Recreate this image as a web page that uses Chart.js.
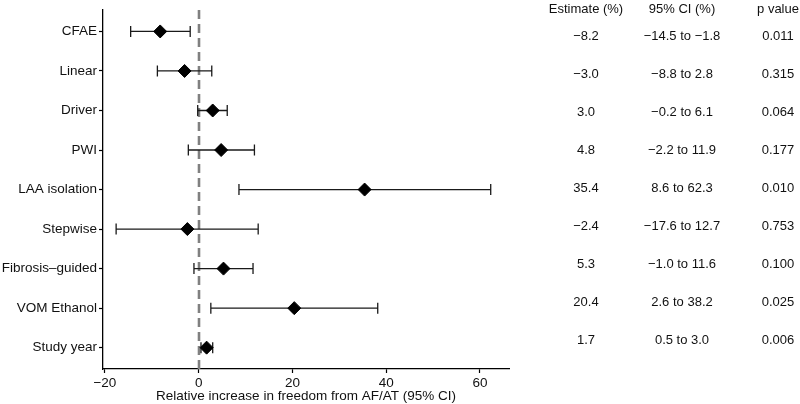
<!DOCTYPE html>
<html>
<head>
<meta charset="utf-8">
<script src="https://cdn.jsdelivr.net/npm/chart.js@4.4.1/dist/chart.umd.min.js"></script>
<style>
    html, body { margin: 0; padding: 0; background: #fff; }
    #wrap { width: 800px; height: 404px; position: relative; }
</style>
</head>
<body>
<div id="wrap"><canvas id="forest"></canvas></div>
<script>
// ==================== ДАННЫЕ ====================

const categories = ['CFAE', 'Linear', 'Driver', 'PWI', 'LAA isolation', 'Stepwise',
    'Fibrosis\u2013guided', 'VOM Ethanol', 'Study year'];
const estimates = [-8.2, -3.0, 3.0, 4.8, 35.4, -2.4, 5.3, 20.4, 1.7];
const ciLow = [-14.5, -8.8, -0.2, -2.2, 8.6, -17.6, -1.0, 2.6, 0.5];
const ciHigh = [-1.8, 2.8, 6.1, 11.9, 62.3, 12.7, 11.6, 38.2, 3.0];
const pValues = ['0.011', '0.315', '0.064', '0.177', '0.010', '0.753', '0.100', '0.025', '0.006'];
const xTicks = [-20, 0, 20, 40, 60];
const tableHeaders = ['Estimate (%)', '95% CI (%)', 'p value'];

const FONT = '"Liberation Sans", Arial, Helvetica, sans-serif';
const INK = '#111';

function fmt(v) {
    return v.toFixed(1).replace('-', '\u2212');
}

// ==================== ПЛАГИНЫ ====================

const whiteBg = {
    id: 'whiteBg',
    beforeDraw(chart) {
        const c = chart.ctx;
        c.save();
        c.fillStyle = '#fff';
        c.fillRect(0, 0, chart.width, chart.height);
        c.restore();
    }
};

// пунктир в нуле + доверительные интервалы
const errorBars = {
    id: 'errorBars',
    beforeDatasetsDraw(chart) {
        const c = chart.ctx;
        const xs = chart.scales.x;
        const ys = chart.scales.y;
        const area = chart.chartArea;

        c.save();
        c.strokeStyle = '#808080';
        c.lineWidth = 2.6;
        c.setLineDash([9, 5]);
        const x0 = Math.round(xs.getPixelForValue(0));
        c.beginPath();
        c.moveTo(x0, area.top);
        c.lineTo(x0, area.bottom);
        c.stroke();
        c.restore();

        c.save();
        c.strokeStyle = '#1a1a1a';
        c.lineWidth = 1.3;
        categories.forEach((cat, i) => {
            const y = ys.getPixelForValue(i + 1);
            const a = xs.getPixelForValue(ciLow[i]);
            const b = xs.getPixelForValue(ciHigh[i]);
            c.beginPath();
            c.moveTo(a, y);
            c.lineTo(b, y);
            c.moveTo(a, y - 5.5);
            c.lineTo(a, y + 5.5);
            c.moveTo(b, y - 5.5);
            c.lineTo(b, y + 5.5);
            c.stroke();
        });
        c.restore();
    }
};

// таблица справа
const sideTable = {
    id: 'sideTable',
    afterDraw(chart) {
        const c = chart.ctx;
        const cols = [586, 682, 778];
        c.save();
        c.fillStyle = INK;
        c.font = '13px ' + FONT;
        c.textAlign = 'center';
        c.textBaseline = 'middle';
        tableHeaders.forEach((h, j) => c.fillText(h, cols[j], 9));
        categories.forEach((cat, i) => {
            const y = 36 + 38 * i;
            c.fillText(fmt(estimates[i]), cols[0], y);
            c.fillText(fmt(ciLow[i]) + ' to ' + fmt(ciHigh[i]), cols[1], y);
            c.fillText(pValues[i], cols[2], y);
        });
        c.restore();
    }
};

// ==================== ГРАФИК ====================

const points = estimates.map((v, i) => ({ x: v, y: i + 1 }));

new Chart(document.getElementById('forest'), {
    type: 'scatter',
    data: {
        datasets: [{
            data: points,
            pointStyle: 'rectRot',
            pointRadius: 6.5,
            pointHoverRadius: 6.5,
            backgroundColor: '#000',
            borderColor: '#000',
            borderWidth: 1
        }]
    },
    options: {
        responsive: true,
        maintainAspectRatio: false,
        animation: false,
        events: [],
        layout: { padding: { left: 0, right: 291, top: 0, bottom: 0 } },
        plugins: {
            legend: { display: false },
            tooltip: { enabled: false }
        },
        scales: {
            x: {
                type: 'linear',
                min: -20.4,
                max: 66.2,
                afterBuildTicks: s => { s.ticks = xTicks.map(v => ({ value: v })); },
                afterFit: s => { s.height = 35; },
                grid: {
                    drawOnChartArea: false,
                    drawTicks: true,
                    tickLength: 4,
                    tickColor: '#000',
                    tickWidth: 1.2
                },
                border: { display: true, color: '#000', width: 1.3 },
                ticks: {
                    padding: 2,
                    color: INK,
                    font: { family: FONT, size: 13.5 },
                    maxRotation: 0,
                    callback: v => String(v).replace('-', '\u2212')
                },
                title: {
                    display: true,
                    text: 'Relative increase in freedom from AF/AT (95% CI)',
                    color: INK,
                    font: { family: FONT, size: 13.5 },
                    padding: { top: 0, bottom: 0 }
                }
            },
            y: {
                type: 'linear',
                reverse: true,
                min: 0.46,
                max: 9.54,
                afterBuildTicks: s => { s.ticks = categories.map((c, i) => ({ value: i + 1 })); },
                afterFit: s => { s.width = 103; },
                grid: {
                    drawOnChartArea: false,
                    drawTicks: true,
                    tickLength: 4,
                    tickColor: '#000',
                    tickWidth: 1.2
                },
                border: { display: true, color: '#000', width: 1.3 },
                ticks: {
                    padding: 2,
                    color: INK,
                    font: { family: FONT, size: 13.5 },
                    callback: v => categories[Math.round(v) - 1] || ''
                }
            }
        }
    },
    plugins: [whiteBg, errorBars, sideTable]
});
</script>
</body>
</html>
